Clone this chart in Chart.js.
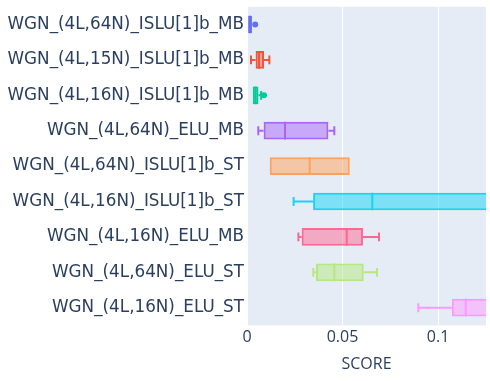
<!DOCTYPE html>
<html>
<head>
<meta charset="utf-8">
<script src="https://cdn.jsdelivr.net/npm/chart.js@4"></script>
<style>
  html, body { margin: 0; padding: 0; background: #fff; }
  #wrap { width: 490px; height: 381px; }
</style>
</head>
<body>
<div id="wrap"><canvas id="scoreChart" width="490" height="381"></canvas></div>
<script>
// categories, top to bottom
const labels = [
  'WGN_(4L,64N)_ISLU[1]b_MB',
  'WGN_(4L,15N)_ISLU[1]b_MB',
  'WGN_(4L,16N)_ISLU[1]b_MB',
  'WGN_(4L,64N)_ELU_MB',
  'WGN_(4L,64N)_ISLU[1]b_ST',
  'WGN_(4L,16N)_ISLU[1]b_ST',
  'WGN_(4L,16N)_ELU_MB',
  'WGN_(4L,64N)_ELU_ST',
  'WGN_(4L,16N)_ELU_ST'
];
const colors = ['#636EFA', '#EF553B', '#00CC96', '#AB63FA', '#FFA15A', '#19D3F3', '#FF6692', '#B6E880', '#FF97FF'];

// box stats
const whiskerLo = [0.0004, 0.0021, 0.0030, 0.0059, 0.0119, 0.0244, 0.0269, 0.0347, 0.0897];
const q1        = [0.0006, 0.0045, 0.0030, 0.0087, 0.0119, 0.0346, 0.0286, 0.0361, 0.1072];
const median    = [0.0015, 0.0063, 0.0045, 0.0199, 0.0328, 0.0656, 0.0522, 0.0457, 0.1145];
const q3        = [0.0026, 0.0089, 0.0060, 0.0426, 0.0538, 0.1500, 0.0607, 0.0611, 0.1400];
const whiskerHi = [0.0026, 0.0117, 0.0074, 0.0457, 0.0538, 0.1900, 0.0691, 0.0680, 0.1600];
const outliers  = [[0.0043], [], [0.0089], [], [], [], [], [], []];

const xTicks = [0, 0.05, 0.1];
const textColor = '#2a3f5f';
const labelFont = '"DejaVu Sans", Verdana, sans-serif';
const axisFont = '"Open Sans", sans-serif';

function withAlpha(hex, a) {
  let r = parseInt(hex.slice(1, 3), 16), g = parseInt(hex.slice(3, 5), 16), b = parseInt(hex.slice(5, 7), 16);
  return `rgba(${r},${g},${b},${a})`;
}

// plot background + whiskers, medians, outliers
const boxParts = {
  id: 'boxParts',
  beforeDraw(chart) {
    const { ctx, chartArea: a } = chart;
    ctx.save();
    ctx.fillStyle = '#E5ECF6';
    ctx.fillRect(a.left, a.top, a.right - a.left, a.bottom - a.top);
    ctx.restore();
  },
  afterDatasetsDraw(chart) {
    const { ctx, chartArea: a, scales: { x, y } } = chart;
    const meta = chart.getDatasetMeta(0);
    ctx.save();
    ctx.beginPath();
    ctx.rect(a.left, a.top, a.right - a.left, a.bottom - a.top);
    ctx.clip();
    labels.forEach((lab, i) => {
      const yc = y.getPixelForValue(i);
      const half = meta.data[i].height / 2;
      const cap = half / 2;
      ctx.strokeStyle = colors[i];
      ctx.lineWidth = 2;
      ctx.beginPath();
      // median
      const xm = x.getPixelForValue(median[i]);
      ctx.moveTo(xm, yc - half); ctx.lineTo(xm, yc + half);
      // lower whisker
      const xl = x.getPixelForValue(whiskerLo[i]), xq1 = x.getPixelForValue(q1[i]);
      if (xq1 - xl > 1) {
        ctx.moveTo(xl, yc); ctx.lineTo(xq1, yc);
        ctx.moveTo(xl, yc - cap); ctx.lineTo(xl, yc + cap);
      }
      // upper whisker
      const xh = x.getPixelForValue(whiskerHi[i]), xq3 = x.getPixelForValue(q3[i]);
      if (xh - xq3 > 1) {
        ctx.moveTo(xq3, yc); ctx.lineTo(xh, yc);
        ctx.moveTo(xh, yc - cap); ctx.lineTo(xh, yc + cap);
      }
      ctx.stroke();
      ctx.fillStyle = colors[i];
      outliers[i].forEach(v => {
        ctx.beginPath();
        ctx.arc(x.getPixelForValue(v), yc, 3, 0, Math.PI * 2);
        ctx.fill();
      });
    });
    ctx.restore();
  }
};

new Chart(document.getElementById('scoreChart'), {
  type: 'bar',
  data: {
    labels: labels,
    datasets: [{
      data: labels.map((l, i) => [q1[i], q3[i]]),
      backgroundColor: colors.map(c => withAlpha(c, 0.5)),
      borderColor: colors,
      borderWidth: 2,
      borderSkipped: false,
      barPercentage: 1,
      categoryPercentage: 0.5
    }]
  },
  options: {
    indexAxis: 'y',
    responsive: false,
    animation: false,
    layout: { padding: { top: 6.8, right: 4, left: 0, bottom: 0 } },
    plugins: { legend: { display: false }, tooltip: { enabled: false } },
    scales: {
      x: {
        min: 0,
        max: 0.1251,
        afterBuildTicks: ax => { ax.ticks = xTicks.map(v => ({ value: v })); },
        afterFit: ax => {
          ax.height = 55.6;
          ax.paddingLeft = 0; ax.paddingRight = 0;
        },
        grid: { color: '#ffffff', lineWidth: 1, drawTicks: false },
        border: { display: false },
        ticks: {
          color: textColor,
          font: { family: axisFont, size: 16 },
          padding: 2,
          maxRotation: 0,
          callback: v => String(v)
        },
        title: {
          display: true,
          text: 'SCORE',
          color: textColor,
          font: { family: axisFont, size: 16 },
          padding: { top: 4, bottom: 7 }
        }
      },
      y: {
        afterFit: ax => {
          ax.width = 247;
          ax.paddingTop = 0; ax.paddingBottom = 0;
        },
        grid: { display: false, drawTicks: false },
        border: { display: false },
        ticks: {
          color: textColor,
          font: { family: labelFont, size: 16.8 },
          padding: 3
        }
      }
    }
  },
  plugins: [boxParts]
});
</script>
</body>
</html>
